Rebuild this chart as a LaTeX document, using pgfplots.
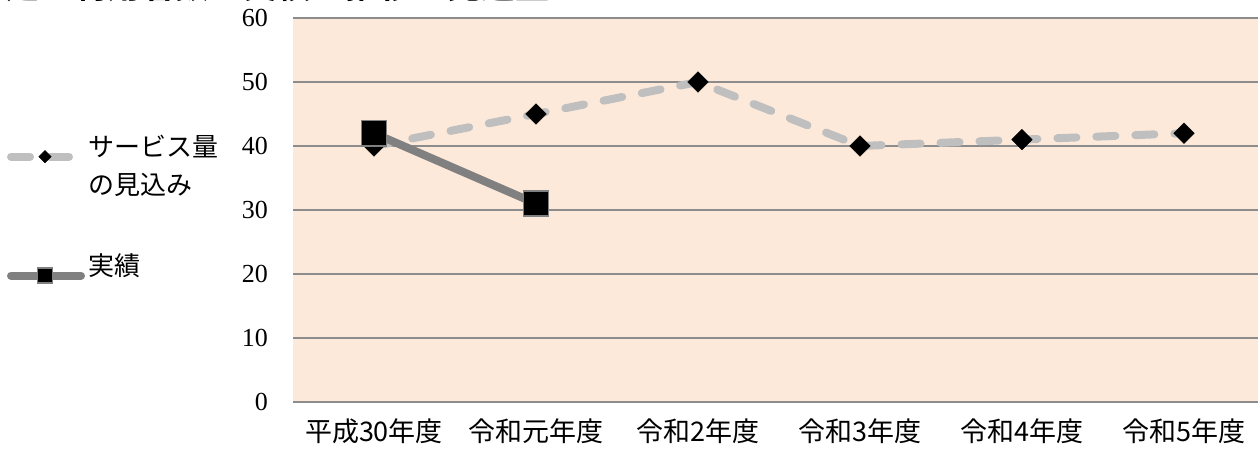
\documentclass[border=0pt]{standalone}
\usepackage{pgfplots}
\pgfplotsset{compat=1.18}
\usepackage{fontspec}
\setmainfont{Liberation Serif}
\newfontfamily\jp{Noto Sans CJK JP}
\newfontfamily\jpb{Noto Sans CJK JP Bold}

\definecolor{bgpeach}{HTML}{FDE9DA}
\definecolor{gridgray}{HTML}{8C8C8C}
\definecolor{planline}{HTML}{BFBFBF}
\definecolor{actline}{HTML}{808080}

\pgfplotstableread{
x plan
0 40
1 45
2 50
3 40
4 41
5 42
}\plandata
\pgfplotstableread{
x actual
0 42
1 31
}\actualdata

\begin{document}
\begin{tikzpicture}
\begin{axis}[
  scale only axis,
  width=482.5pt, height=192pt,
  at={(0pt,0pt)}, anchor=south west,
  xmin=-0.5, xmax=5.457,
  ymin=0, ymax=60,
  ytick={0,10,...,60},
  xtick={0,...,5},
  xticklabels={平成30年度,令和元年度,令和2年度,令和3年度,令和4年度,令和5年度},
  x tick label style={font=\jp\fontsize{13.5}{15}\selectfont, yshift=-5pt},
  y tick label style={font=\fontsize{13}{14}\selectfont, xshift=-9pt},
  /pgf/number format/assume math mode=true,
  major tick length=0pt,
  axis line style={draw=none},
  axis background/.style={fill=bgpeach},
  ymajorgrids,
  major grid style={draw=gridgray, line width=0.7pt},
  clip=false,
  legend style={
    at={(-0.303,0.731)}, anchor=north west,
    draw=none, fill=none,
    font=\jp\fontsize{13}{20}\selectfont,
    row sep=44pt,
    nodes={anchor=base west, inner sep=1.5pt},
  },
  legend cell align=left,
  legend image code/.code={
    \draw[#1, mark=none] (0pt,0pt) -- (35pt,0pt);
    \draw[#1, draw=none, every mark/.append style={scale=0.6}]
      plot coordinates {(17pt,0pt)};
  },
]
% service volume estimate
\addplot[planline, line width=4pt, line cap=round,
  dash pattern=on 9.5pt off 10pt,
  mark=square*, mark size=3.6pt,
  mark options={solid, rotate=45, fill=black, draw=black, line width=0.3pt}]
  table[x=x, y=plan] {\plandata};
\addlegendentry{{\begin{tabular}[t]{@{}l@{}}サービス量\\[-1pt]の見込み\end{tabular}}}
% actual results
\addplot[actline, line width=4pt, line cap=round,
  mark=square*, mark size=6.3pt,
  mark options={solid, fill=black, draw=gray, line width=0.8pt}]
  table[x=x, y=actual] {\actualdata};
\addlegendentry{実績}
% frame lines at top and bottom of the plotting area
\draw[gridgray, line width=1.3pt] (axis cs:-0.5,0) -- (axis cs:5.457,0);
\draw[gridgray, line width=1.3pt] (axis cs:-0.5,60) -- (axis cs:5.457,60);
\end{axis}
\node[anchor=base west, font=\jpb\fontsize{17}{17}\selectfont, inner sep=0pt]
  at (-144pt,201.8pt) {延べ利用者数の実績の推移と見込量};
\pgfresetboundingbox
\path[use as bounding box] (-146.5pt,-25pt) rectangle (482.5pt,201pt);
\end{tikzpicture}
\end{document}
